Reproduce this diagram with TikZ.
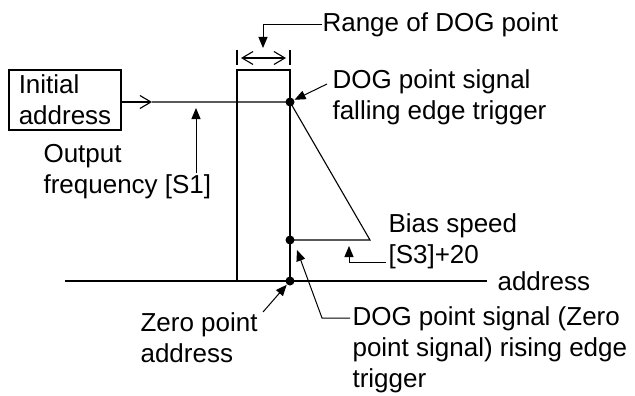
\documentclass[tikz,border=0pt]{standalone}
\usepackage{fontspec}
\setmainfont{Liberation Sans}
\usetikzlibrary{arrows.meta}

\begin{document}
\begin{tikzpicture}[x=1pt, y=-1pt, line width=1.1pt,
        txt/.style = {anchor=west, inner sep=0pt, align=left, font=\fontsize{26}{31}\selectfont},
        dot/.style = {circle, fill, inner sep=0pt, minimum size=9pt},
        leader/.style = {-{Triangle[length=11pt, width=9pt]}, line width=1pt},
        barb/.style = {-{Straight Barb[length=11pt, width=13pt]}},
        dimarrow/.style = {{Straight Barb[length=11pt, width=13pt]}-{Straight Barb[length=11pt, width=13pt]}}]
        \useasboundingbox (0,0) rectangle (635,396);

        % Nodes
        \node [draw, rectangle, minimum width = 112pt, minimum height = 60pt, align = left,
               inner sep = 0pt, font = \fontsize{26}{31}\selectfont] (init) at (65, 100) {Initial\\address};
        \node [dot] (fall) at (290, 102) {};
        \node [dot] (bias) at (290, 240) {};
        \node [dot] (zero) at (290, 281) {};
        \coordinate (turn) at (370, 240);
        \coordinate (mid) at (152, 102);

        % DOG range box and dimension
        \draw (237, 281) rectangle (290, 70);
        \draw (237, 50) -- (237, 65);
        \draw (290, 50) -- (290, 65);
        \draw [dimarrow] (241, 58) -- (286, 58);

        % Speed profile
        \draw [barb] (init.east |- fall) -- (mid);
        \draw (mid) -- (fall.center) -- (turn) -- (bias.center);
        \draw (65, 281) -- (487, 281);

        % Labels
        \node [txt] (range) at (322, 25) {Range of DOG point};
        \node [txt] (falltxt) at (332, 97) {DOG point signal\\falling edge trigger};
        \node [txt] (output) at (43, 172) {Output\\frequency [S1]};
        \node [txt] (biastxt) at (388, 241) {Bias speed\\{[S3]+20}};
        \node [txt] (axis) at (497, 281) {address};
        \node [txt] (zerotxt) at (140, 338) {Zero point\\address};
        \node [txt] (rise) at (352, 350) {DOG point signal (Zero\\point signal) rising edge\\trigger};

        % Draw the leaders
        \coordinate (r1) at (263, 25);
        \coordinate (r2) at (263, 48);
        \draw [leader] (range.west) -- (r1) -- (r2);
        \coordinate (f1) at (327, 84);
        \draw [leader] (f1) -- (fall);
        \coordinate (o1) at (196, 173);
        \coordinate (o2) at (196, 108);
        \draw [leader] (o1) -- (o2);
        \coordinate (b1) at (386, 262);
        \coordinate (b2) at (349, 262);
        \coordinate (b3) at (349, 246);
        \draw [leader] (b1) -- (b2) -- (b3);
        \coordinate (z1) at (263, 312);
        \draw [leader] (z1) -- (zero);
        \coordinate (d1) at (350, 318);
        \coordinate (d2) at (322, 318);
        \coordinate (d3) at (297, 250);
        \draw [leader] (d1) -- (d2) -- (d3);

    \end{tikzpicture}
\end{document}
